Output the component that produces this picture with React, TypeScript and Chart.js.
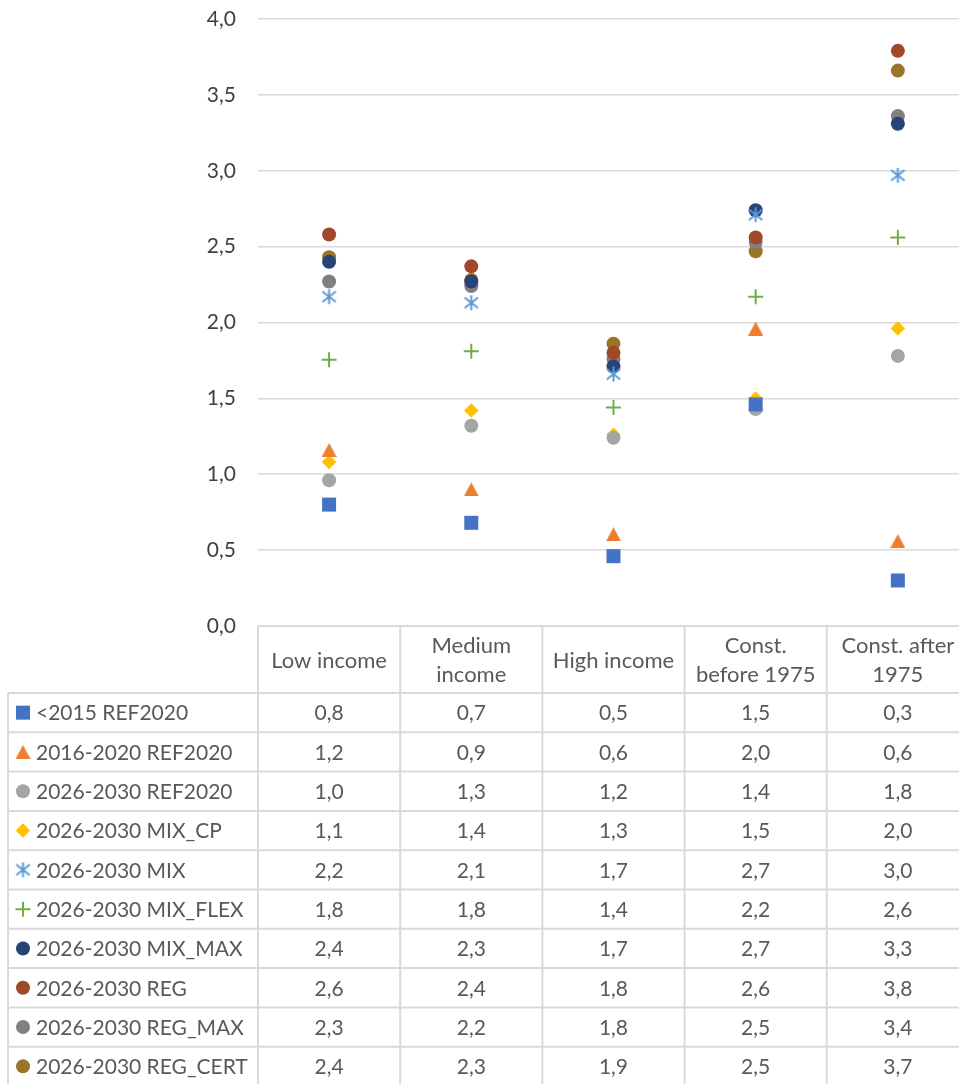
import React, { useEffect, useRef } from 'react';
import { Chart, registerables } from 'chart.js';
import { drawPoint } from 'chart.js/helpers';

Chart.register(...registerables);

// ---- data ----
const categories: string[][] = [
  ['Low income'],
  ['Medium', 'income'],
  ['High income'],
  ['Const.', 'before 1975'],
  ['Const. after', '1975'],
];

const seriesNames = [
  '<2015 REF2020',
  '2016-2020 REF2020',
  '2026-2030 REF2020',
  '2026-2030 MIX_CP',
  '2026-2030 MIX',
  '2026-2030 MIX_FLEX',
  '2026-2030 MIX_MAX',
  '2026-2030 REG',
  '2026-2030 REG_MAX',
  '2026-2030 REG_CERT',
];

const s2015Ref = [0.8, 0.68, 0.46, 1.46, 0.3];
const s2016Ref = [1.16, 0.9, 0.605, 1.96, 0.56];
const s2026Ref = [0.96, 1.32, 1.24, 1.43, 1.78];
const sMixCp = [1.08, 1.42, 1.26, 1.5, 1.96];
const sMix = [2.17, 2.13, 1.66, 2.71, 2.97];
const sMixFlex = [1.755, 1.81, 1.44, 2.17, 2.56];
const sMixMax = [2.4, 2.27, 1.71, 2.74, 3.31];
const sReg = [2.58, 2.37, 1.8, 2.56, 3.79];
const sRegMax = [2.27, 2.24, 1.76, 2.53, 3.36];
const sRegCert = [2.43, 2.28, 1.86, 2.47, 3.66];

const seriesValues = [s2015Ref, s2016Ref, s2026Ref, sMixCp, sMix, sMixFlex, sMixMax, sReg, sRegMax, sRegCert];

const yTicksMin = 0;
const yTicksMax = 4;
const yTickStep = 0.5;

// category index axis: the last column is cut by the picture's right edge
const xAxisMin = -0.5;
const xAxisMax = 4.43;

// ---- styles ----
const colors = ['#4472C4', '#ED7D31', '#A5A5A5', '#FFC000', '#5B9BD5', '#70AD47', '#264478', '#A0482A', '#808080', '#9A7528'];
const FONT = 'Lato';
const FONT_SIZE = 21;
const HEADER_FONT_SIZE = 22;
const TEXT_COLOR = '#595959';
const GRID_COLOR = '#D9D9D9';

function makeStar(color: string, size: number, lw: number) {
  const c = document.createElement('canvas');
  c.width = size + 2;
  c.height = size + 2;
  const g = c.getContext('2d')!;
  g.strokeStyle = color;
  g.lineWidth = lw;
  g.lineCap = 'butt';
  const o = 1;
  const s = size;
  g.beginPath();
  g.moveTo(o + s / 2, o);
  g.lineTo(o + s / 2, o + s);
  g.moveTo(o + s * 0.05, o + s * 0.15);
  g.lineTo(o + s * 0.95, o + s * 0.85);
  g.moveTo(o + s * 0.95, o + s * 0.15);
  g.lineTo(o + s * 0.05, o + s * 0.85);
  g.stroke();
  return c;
}

function makeTriangle(color: string, w: number, h: number) {
  const c = document.createElement('canvas');
  c.width = w;
  c.height = h;
  const g = c.getContext('2d')!;
  g.fillStyle = color;
  g.beginPath();
  g.moveTo(w / 2, 0);
  g.lineTo(w, h);
  g.lineTo(0, h);
  g.closePath();
  g.fill();
  return c;
}

export default function App() {
  const ref = useRef<HTMLCanvasElement | null>(null);

  useEffect(() => {
    const canvas = ref.current;
    if (!canvas) return;

    const star = makeStar(colors[4], 15, 2);
    const tri = makeTriangle(colors[1], 15, 14);

    const pointDefs: any[] = [
      { style: 'rect', radius: 9.9, bw: 0 },
      { style: tri, radius: 7, bw: 0 },
      { style: 'circle', radius: 7, bw: 0 },
      { style: 'rectRot', radius: 7.2, bw: 0 },
      { style: star, radius: 7, bw: 0 },
      { style: 'cross', radius: 7.5, bw: 2 },
      { style: 'circle', radius: 7, bw: 0 },
      { style: 'circle', radius: 7, bw: 0 },
      { style: 'circle', radius: 7, bw: 0 },
      { style: 'circle', radius: 7, bw: 0 },
    ];

    const fmt = (v: number) => Number(v).toFixed(1).replace('.', ',');

    const tablePlugin = {
      id: 'dataTable',
      afterDraw(chart: any) {
        const { ctx, chartArea } = chart;
        const xs = chart.scales.x;
        const n = categories.length;
        const edges: number[] = [];
        for (let i = 0; i <= n; i++) edges.push(xs.getPixelForValue(i - 0.5));
        const top = chartArea.bottom;
        const headerH = 67;
        const rowH = 39.3;
        const tableLeft = 8;
        const rows = seriesNames.length;
        const bottom = top + headerH + rows * rowH + 2;
        const right = edges[n] + 4;

        ctx.save();
        ctx.strokeStyle = GRID_COLOR;
        ctx.lineWidth = 2;
        ctx.beginPath();
        ctx.moveTo(edges[0], top);
        ctx.lineTo(right, top);
        for (let r = 0; r <= rows; r++) {
          const y = top + headerH + r * rowH;
          ctx.moveTo(tableLeft, y);
          ctx.lineTo(right, y);
        }
        for (let i = 0; i <= n; i++) {
          ctx.moveTo(edges[i], top);
          ctx.lineTo(edges[i], bottom);
        }
        ctx.moveTo(tableLeft, top + headerH);
        ctx.lineTo(tableLeft, bottom);
        ctx.stroke();

        ctx.font = `${HEADER_FONT_SIZE}px ${FONT}`;
        ctx.fillStyle = TEXT_COLOR;
        ctx.textAlign = 'center';
        ctx.textBaseline = 'middle';
        const lh = 29.5;
        for (let i = 0; i < n; i++) {
          const cx = xs.getPixelForValue(i);
          const lines = categories[i];
          const cy = top + headerH / 2 + 1;
          lines.forEach((ln, k) => {
            ctx.fillText(ln, cx, cy - ((lines.length - 1) * lh) / 2 + k * lh);
          });
        }

        ctx.font = `${FONT_SIZE}px ${FONT}`;
        for (let r = 0; r < rows; r++) {
          const cy = top + headerH + r * rowH + rowH / 2 + 1;
          for (let i = 0; i < n; i++) {
            ctx.fillStyle = TEXT_COLOR;
            ctx.textAlign = 'center';
            ctx.fillText(fmt(seriesValues[r][i]), xs.getPixelForValue(i), cy);
          }
          ctx.textAlign = 'left';
          ctx.fillText(seriesNames[r], 36, cy);
          const pd = pointDefs[r];
          ctx.fillStyle = colors[r];
          ctx.strokeStyle = colors[r];
          ctx.lineWidth = pd.bw || 1;
          drawPoint(ctx, { pointStyle: pd.style, radius: pd.radius, rotation: 0, borderWidth: pd.bw }, 23, cy - 1);
        }
        ctx.restore();
      },
    };

    const chart = new Chart(canvas, {
      type: 'line',
      data: {
        datasets: seriesNames.map((name, i) => ({
          label: name,
          data: seriesValues[i].map((v, k) => ({ x: k, y: v })),
          showLine: false,
          pointStyle: pointDefs[i].style,
          pointRadius: pointDefs[i].radius,
          pointHoverRadius: pointDefs[i].radius,
          pointBackgroundColor: colors[i],
          pointBorderColor: colors[i],
          pointBorderWidth: pointDefs[i].bw,
          borderColor: colors[i],
          backgroundColor: colors[i],
        })),
      },
      options: {
        animation: false,
        responsive: true,
        maintainAspectRatio: false,
        events: [],
        layout: { autoPadding: false, padding: { top: 19, bottom: 458, left: 0, right: 0 } },
        plugins: { legend: { display: false }, tooltip: { enabled: false } },
        scales: {
          x: { type: 'linear', min: xAxisMin, max: xAxisMax, display: false },
          y: {
            min: yTicksMin,
            max: yTicksMax,
            ticks: {
              stepSize: yTickStep,
              padding: 22,
              color: '#404040',
              font: { family: FONT, size: FONT_SIZE },
              callback: (v: any) => fmt(Number(v)),
            },
            grid: { color: GRID_COLOR, lineWidth: 1.6, drawTicks: false },
            border: { display: false },
            afterFit: (s: any) => {
              s.width = 258;
              s.paddingTop = 0;
              s.paddingBottom = 0;
            },
          },
        },
      },
      plugins: [tablePlugin],
    } as any);

    return () => chart.destroy();
  }, []);

  return (
    <div style={{ position: 'absolute', left: 0, top: 0, width: 959, height: 1084, overflow: 'hidden', background: '#fff' }}>
      <canvas ref={ref} />
    </div>
  );
}
